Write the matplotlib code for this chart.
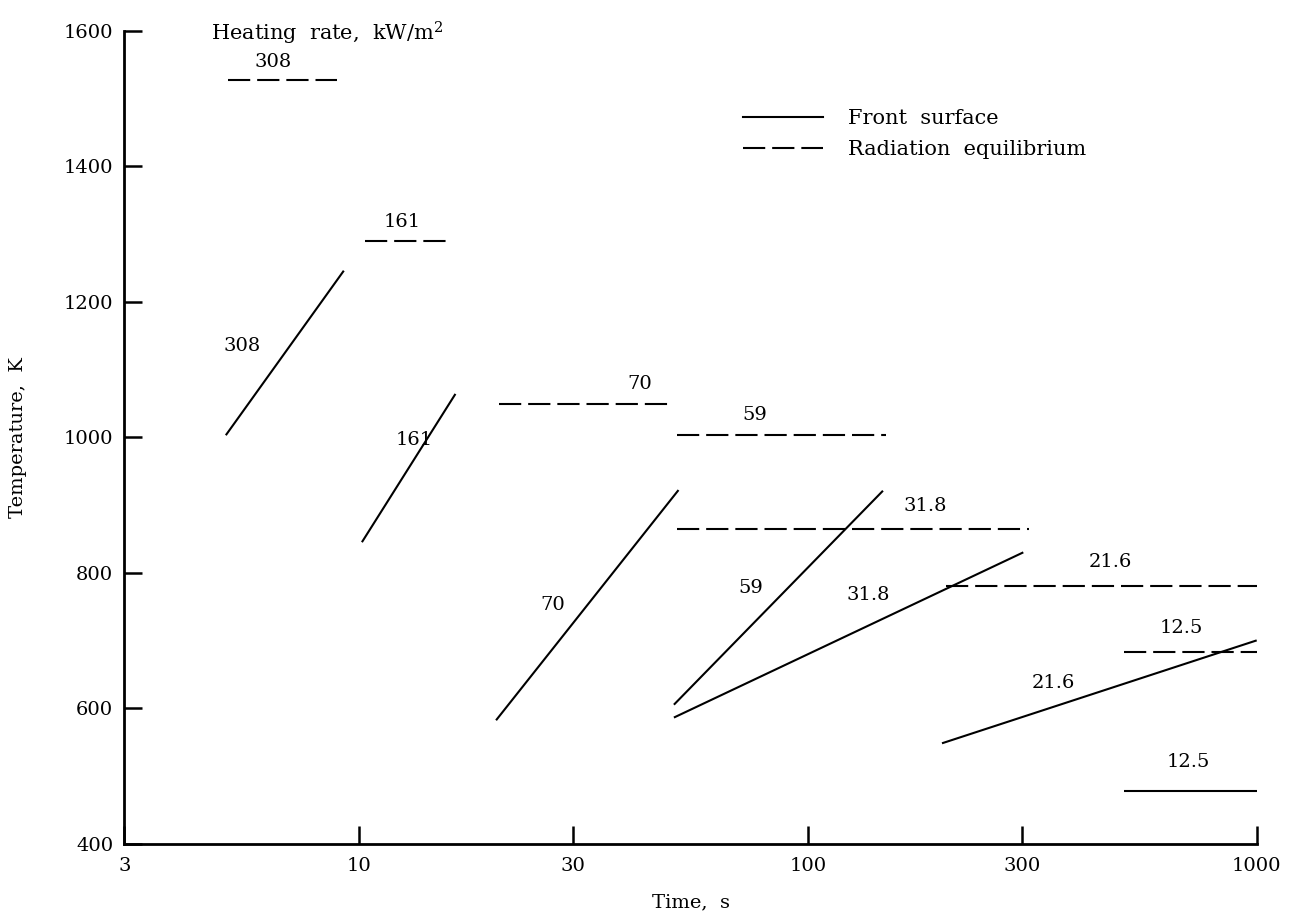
import matplotlib
matplotlib.use("Agg")
import matplotlib.pyplot as plt
from matplotlib.lines import Line2D
from matplotlib.ticker import FixedLocator, FixedFormatter, NullLocator

# ---------------- data ----------------
rates = ["308", "161", "70", "59", "31.8", "21.6", "12.5"]

# Front surface temperature histories (straight on semi-log axes)
front_t_start = [5.05, 10.15, 20.2, 50.3, 50.3, 199, 505]
front_t_end = [9.25, 16.4, 51.5, 147, 302, 1000, 1000]
front_T_start = [1003, 845, 582, 605, 586, 548, 478]
front_T_end = [1246, 1064, 922, 921, 830, 700, 478]

# Radiation equilibrium temperatures
rad_t_start = [5.1, 10.3, 20.5, 51, 51, 203, 505]
rad_t_end = [8.95, 16.0, 49, 149, 311, 1000, 1000]
rad_T = [1527, 1290, 1049, 1004, 864, 781, 683]

x_ticks = [3, 10, 30, 100, 300, 1000]
x_ticklabels = ["3", "10", "30", "100", "300", "1000"]
y_ticks = [400, 600, 800, 1000, 1200, 1400, 1600]

# label placement (layout)
front_label_pos = [(5.5, 1135), (13.3, 996), (27, 752), (74.6, 777),
                   (136, 767), (353, 637), (703, 520)]
rad_label_pos = [(6.44, 1554), (12.5, 1318), (42.3, 1079), (76.3, 1033),
                 (183, 898), (471, 816), (678, 719)]

# ---------------- style ----------------
plt.rcParams["font.family"] = ["DejaVu Serif"]
plt.rcParams["mathtext.fontset"] = "dejavuserif"
plt.rcParams["lines.scale_dashes"] = False
FS = 14
FS_BIG = 15
LW = 1.5
DASH = (16, 5)

fig = plt.figure(figsize=(12.9, 9.22), dpi=100)
ax = fig.add_axes([0.09636, 0.08514, 0.97419 - 0.09636, 0.96638 - 0.08514])

for i in range(len(rates)):
    ax.plot([front_t_start[i], front_t_end[i]], [front_T_start[i], front_T_end[i]],
            color="black", lw=LW, solid_capstyle="butt")
    ax.plot([rad_t_start[i], rad_t_end[i]], [rad_T[i], rad_T[i]],
            color="black", lw=LW, dashes=DASH, dash_capstyle="butt")
    fx, fy = front_label_pos[i]
    ax.text(fx, fy, rates[i], ha="center", va="center", fontsize=FS)
    rx, ry = rad_label_pos[i]
    ax.text(rx, ry, rates[i], ha="center", va="center", fontsize=FS)

ax.text(8.47, 1597, "Heating  rate,  kW/m$^2$", ha="center", va="center",
        fontsize=FS_BIG)

ax.set_xscale("log")
ax.set_xlim(3, 1000)
ax.set_ylim(400, 1600)
ax.xaxis.set_major_locator(FixedLocator(x_ticks))
ax.xaxis.set_major_formatter(FixedFormatter(x_ticklabels))
ax.xaxis.set_minor_locator(NullLocator())
ax.set_yticks(y_ticks)

for s in ["top", "right"]:
    ax.spines[s].set_visible(False)
for s in ["left", "bottom"]:
    ax.spines[s].set_linewidth(2.0)

ax.tick_params(axis="both", which="major", direction="in", length=13, width=1.8,
               labelsize=FS)
ax.tick_params(axis="x", pad=10)
ax.tick_params(axis="y", pad=8)

ax.set_xlabel("Time,  s", fontsize=FS)
ax.set_ylabel("Temperature,  K", fontsize=FS)
ax.xaxis.set_label_coords(0.5, -0.061)
ax.yaxis.set_label_coords(-0.086, 0.5)

handles = [Line2D([], [], color="black", lw=LW),
           Line2D([], [], color="black", lw=LW, dashes=DASH)]
ax.legend(handles, ["Front  surface", "Radiation  equilibrium"], loc="upper left",
          bbox_to_anchor=(0.5464, 0.904), frameon=False, fontsize=FS_BIG,
          handlelength=3.85, handletextpad=1.2, labelspacing=0.58, borderpad=0,
          borderaxespad=0)

fig.savefig("out.png", dpi=100)
